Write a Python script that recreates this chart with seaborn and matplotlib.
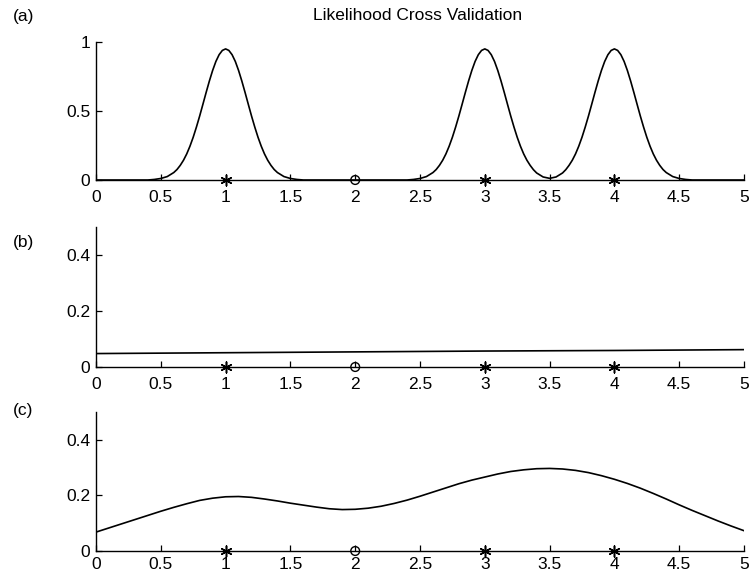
import numpy as np
import pandas as pd
import matplotlib
matplotlib.use("Agg")
import matplotlib.pyplot as plt
import seaborn as sns
from matplotlib.ticker import FuncFormatter

# ---------------- data ----------------
def grid(a, b, step):
    return list(np.round(np.arange(a, b + step / 2, step), 3))

# panel (a): likelihood curve (three narrow bumps at the data points 1, 3, 4)
a_x = ([0.0, 0.4, 0.45, 0.5, 0.55] + grid(0.6, 1.4, 0.025) + [1.45, 1.5, 1.55, 1.6, 2.4,
       2.45, 2.5, 2.55] + grid(2.6, 3.4, 0.025) + [3.45, 3.5, 3.55] + grid(3.6, 4.4, 0.025)
       + [4.45, 4.5, 4.55, 4.6, 5.0])
a_y = ([0.0, 0.0, 0.004, 0.011, 0.025]
       + [0.054, 0.076, 0.106, 0.143, 0.189, 0.245, 0.310, 0.384, 0.464, 0.549, 0.635,
          0.718, 0.794, 0.859, 0.908, 0.939, 0.95, 0.939, 0.908, 0.859, 0.794, 0.718,
          0.635, 0.549, 0.464, 0.384, 0.310, 0.245, 0.189, 0.143, 0.106, 0.076, 0.054]
       + [0.025, 0.011, 0.004, 0.0, 0.0, 0.004, 0.011, 0.025]
       + [0.054, 0.076, 0.106, 0.143, 0.189, 0.245, 0.310, 0.384, 0.464, 0.549, 0.635,
          0.718, 0.794, 0.859, 0.908, 0.939, 0.95, 0.939, 0.908, 0.859, 0.794, 0.718,
          0.635, 0.549, 0.464, 0.384, 0.310, 0.245, 0.189, 0.143, 0.106, 0.075, 0.051]
       + [0.022, 0.012, 0.022]
       + [0.051, 0.075, 0.106, 0.143, 0.189, 0.245, 0.310, 0.384, 0.464, 0.549, 0.635,
          0.718, 0.794, 0.859, 0.908, 0.939, 0.95, 0.939, 0.908, 0.859, 0.794, 0.718,
          0.635, 0.549, 0.464, 0.384, 0.310, 0.245, 0.189, 0.143, 0.106, 0.076, 0.054]
       + [0.025, 0.011, 0.004, 0.0, 0.0])

# panel (b): almost flat curve
b_x = [0.0, 1.0, 2.0, 3.0, 4.0, 5.0]
b_y = [0.048, 0.051, 0.054, 0.057, 0.059, 0.062]

# panel (c): smooth curve
c_x = grid(0.0, 5.0, 0.1)
c_y = [0.068, 0.083, 0.098, 0.113, 0.128, 0.143, 0.157, 0.170, 0.182, 0.190,
       0.195, 0.196, 0.193, 0.187, 0.180, 0.172, 0.165, 0.158, 0.152, 0.149,
       0.150, 0.154, 0.161, 0.171, 0.183, 0.197, 0.212, 0.227, 0.242, 0.255,
       0.266, 0.277, 0.286, 0.292, 0.296, 0.297, 0.295, 0.290, 0.282, 0.271,
       0.258, 0.243, 0.226, 0.207, 0.187, 0.166, 0.146, 0.127, 0.108, 0.090, 0.073]

# sample points: training (star) and held-out (circle)
star_x = [1, 3, 4]
star_y = [0, 0, 0]
circ_x = [2]
circ_y = [0]

x_ticks = [0, 0.5, 1, 1.5, 2, 2.5, 3, 3.5, 4, 4.5, 5]
ticks_a = [0, 0.5, 1]
ticks_bc = [0, 0.2, 0.4]

title = "Likelihood Cross Validation"
panel_labels = ["(a)", "(b)", "(c)"]

# ---------------- figure ----------------
sns.set_theme(style="ticks")
plt.rcParams["font.family"] = ["Liberation Sans", "DejaVu Sans"]

W, H = 753, 575
fig = plt.figure(figsize=(W / 100, H / 100), dpi=100)
fig.patch.set_facecolor("white")

FS = 12.5
left, right = 96 / W, 744 / W
boxes = [(180, 42), (367, 227), (551, 412)]  # (pixel y of 0, pixel y of top)
curves = [(a_x, a_y), (b_x, b_y), (c_x, c_y)]
ylims = [(0, 1), (0, 0.5), (0, 0.5)]
yticks = [ticks_a, ticks_bc, ticks_bc]
label_y = [17, 242, 411]
xpads = [7, 7, 4.5]

fmt = FuncFormatter(lambda v, p: ("%g" % v))

for i in range(3):
    y0, y1 = boxes[i]
    ax = fig.add_axes([left, 1 - y0 / H, right - left, (y0 - y1) / H])
    ax.set_facecolor("white")
    df = pd.DataFrame({"x": curves[i][0], "y": curves[i][1]})
    sns.lineplot(data=df, x="x", y="y", ax=ax, color="black", linewidth=1.2,
                 estimator=None, sort=False)
    sns.scatterplot(x=star_x, y=star_y, ax=ax, marker=(6, 2, 0), s=60,
                    color="black", edgecolor="black", linewidth=1.1, clip_on=False, zorder=5)
    sns.scatterplot(x=circ_x, y=circ_y, ax=ax, marker="o", s=40,
                    facecolor="none", edgecolor="black", linewidth=1.0, clip_on=False, zorder=5)
    ax.set_xlim(0, 5)
    ax.set_ylim(*ylims[i])
    ax.set_xticks(x_ticks)
    ax.set_yticks(yticks[i])
    ax.xaxis.set_major_formatter(fmt)
    ax.yaxis.set_major_formatter(fmt)
    ax.set_xlabel("")
    ax.set_ylabel("")
    for s in ["top", "right"]:
        ax.spines[s].set_visible(False)
    for s in ["left", "bottom"]:
        ax.spines[s].set_linewidth(1.0)
        ax.spines[s].set_color("black")
    ax.tick_params(axis="both", direction="in", length=4, width=0.9, colors="black",
                   labelsize=FS, labelcolor="black")
    ax.tick_params(axis="x", pad=xpads[i])
    ax.tick_params(axis="y", pad=4)
    fig.text(13 / W, 1 - label_y[i] / H, panel_labels[i], fontsize=FS,
             ha="left", va="center", color="black")

fig.text(418 / W, 1 - 16 / H, title, fontsize=FS, ha="center",
         va="center", color="black")

fig.savefig("out.png", dpi=100, facecolor="white")
